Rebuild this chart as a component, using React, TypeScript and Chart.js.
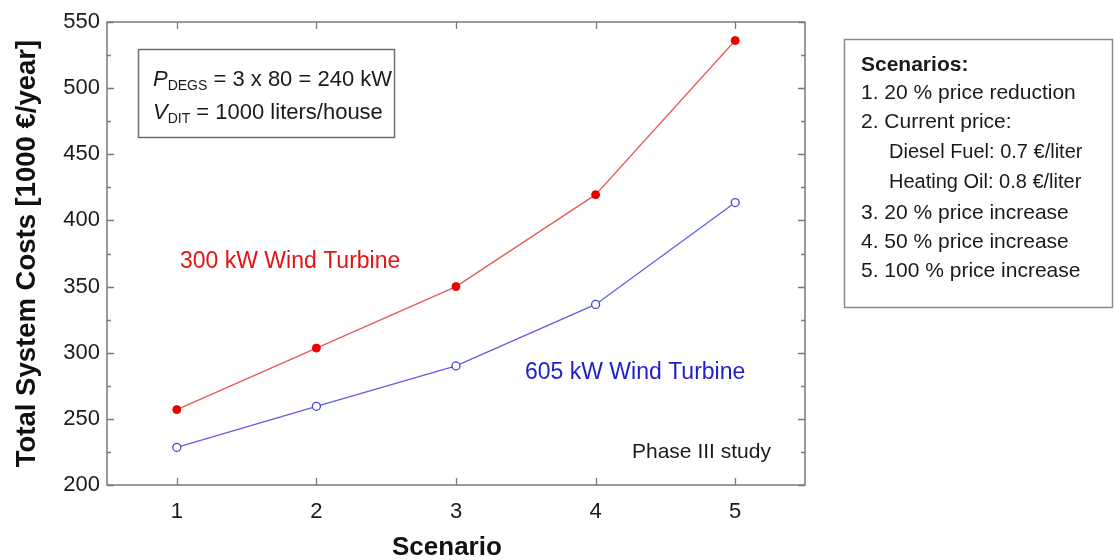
import React, { useEffect, useRef } from 'react';
import { Chart, registerables } from 'chart.js';

Chart.register(...registerables);

const scenarios = ['1', '2', '3', '4', '5'];
const cost300kW = [257, 303.5, 350, 419.5, 536];
const cost605kW = [228.5, 259.5, 290, 336.5, 413.5];
const yMin = 200;
const yMax = 550;
const yMinorStep = 25;
const yLabelStep = 50;

const xTitle = 'Scenario';
const yTitle = 'Total System Costs [1000 €/year]';
const label300 = '300 kW Wind Turbine';
const label605 = '605 kW Wind Turbine';
const phaseLabel = 'Phase III study';
const legendTitle = 'Scenarios:';
const legendMain = [
  { text: '1. 20 % price reduction', sub: false },
  { text: '2. Current price:', sub: false },
  { text: 'Diesel Fuel: 0.7 €/liter', sub: true },
  { text: 'Heating Oil: 0.8 €/liter', sub: true },
  { text: '3. 20 % price increase', sub: false },
  { text: '4. 50 % price increase', sub: false },
  { text: '5. 100 % price increase', sub: false },
];

const FONT = '"Liberation Sans", Arial, Helvetica, sans-serif';
const RED_TEXT = 'rgb(228,18,18)';
const BLUE_TEXT = 'rgb(30,30,205)';

const framePlugin = {
  id: 'frameTicks',
  beforeDatasetsDraw(chart: any) {
    const { ctx, chartArea } = chart;
    const { left, right, top, bottom } = chartArea;
    const xs = chart.scales.x;
    const ys = chart.scales.y;
    ctx.save();
    ctx.strokeStyle = '#7a7a7a';
    ctx.lineWidth = 1.5;
    ctx.strokeRect(left, top, right - left, bottom - top);
    ctx.lineWidth = 1.3;
    ctx.beginPath();
    ys.ticks.forEach((t: any) => {
      const py = Math.round(ys.getPixelForValue(t.value)) + 0.5;
      const len = t.value % yLabelStep === 0 ? 7 : 4;
      ctx.moveTo(left, py);
      ctx.lineTo(left + len, py);
      ctx.moveTo(right, py);
      ctx.lineTo(right - len, py);
    });
    xs.ticks.forEach((_t: any, i: number) => {
      const px = Math.round(xs.getPixelForTick(i)) + 0.5;
      ctx.moveTo(px, bottom);
      ctx.lineTo(px, bottom - 7);
      ctx.moveTo(px, top);
      ctx.lineTo(px, top + 7);
    });
    ctx.stroke();
    ctx.restore();
  },
  afterDraw(chart: any) {
    const { ctx } = chart;
    ctx.save();
    ctx.textBaseline = 'middle';
    ctx.textAlign = 'left';

    // x axis title
    ctx.font = `bold 26px ${FONT}`;
    ctx.fillStyle = '#111';
    ctx.fillText(xTitle, 392, 548);

    // series labels
    ctx.font = `23px ${FONT}`;
    ctx.fillStyle = RED_TEXT;
    ctx.fillText(label300, 180, 262);
    ctx.fillStyle = BLUE_TEXT;
    ctx.fillText(label605, 525, 373);
    ctx.fillStyle = '#1a1a1a';
    ctx.font = `21px ${FONT}`;
    ctx.fillText(phaseLabel, 632, 452);

    // inset box
    ctx.strokeStyle = '#6e6e6e';
    ctx.lineWidth = 1.5;
    ctx.strokeRect(138.5, 49.5, 256, 88);
    ctx.fillStyle = '#1a1a1a';
    ctx.textBaseline = 'alphabetic';
    const drawSubLine = (main: string, sub: string, rest: string, x: number, y: number) => {
      ctx.font = `italic 22px ${FONT}`;
      ctx.fillText(main, x, y);
      let cx = x + ctx.measureText(main).width;
      ctx.font = `14px ${FONT}`;
      ctx.fillText(sub, cx, y + 4);
      cx += ctx.measureText(sub).width;
      ctx.font = `22px ${FONT}`;
      ctx.fillText(rest, cx, y);
    };
    drawSubLine('P', 'DEGS', ' = 3 x 80 = 240 kW', 153, 86);
    drawSubLine('V', 'DIT', ' = 1000 liters/house', 153, 119);

    // legend box
    ctx.strokeStyle = '#8a8a8a';
    ctx.lineWidth = 1.5;
    ctx.strokeRect(844.5, 39.5, 268, 268);
    ctx.textBaseline = 'middle';
    ctx.font = `bold 21px ${FONT}`;
    ctx.fillText(legendTitle, 861, 65);
    const ys = [93, 122, 152, 182, 213, 242, 271];
    legendMain.forEach((l, i) => {
      ctx.font = l.sub ? `20px ${FONT}` : `21px ${FONT}`;
      ctx.fillText(l.text, l.sub ? 889 : 861, ys[i]);
    });
    ctx.restore();
  },
};

export default function App() {
  const ref = useRef<HTMLCanvasElement | null>(null);
  useEffect(() => {
    if (!ref.current) return;
    const chart = new Chart(ref.current, {
      type: 'line',
      data: {
        labels: scenarios,
        datasets: [
          {
            label: label300,
            data: cost300kW,
            borderColor: 'rgb(228,92,92)',
            borderWidth: 1.3,
            pointBackgroundColor: 'rgb(235,0,0)',
            pointBorderColor: 'rgb(235,0,0)',
            pointRadius: 4,
            pointBorderWidth: 1,
            tension: 0,
          },
          {
            label: label605,
            data: cost605kW,
            borderColor: 'rgb(95,95,225)',
            borderWidth: 1.3,
            pointBackgroundColor: '#ffffff',
            pointBorderColor: 'rgb(70,70,210)',
            pointRadius: 4,
            pointBorderWidth: 1.3,
            tension: 0,
          },
        ],
      },
      options: {
        animation: false,
        responsive: false,
        layout: { padding: { top: 22, right: 310, left: 0, bottom: 0 } },
        plugins: {
          legend: { display: false },
          tooltip: { enabled: false },
        },
        scales: {
          x: {
            type: 'category',
            offset: true,
            grid: { display: false, drawTicks: false },
            border: { display: false },
            ticks: { font: { size: 22, family: FONT }, color: '#1a1a1a', padding: 14 },
            title: { display: false, text: xTitle },
            afterFit: (s: any) => {
              s.height = 75;
            },
          },
          y: {
            type: 'linear',
            min: yMin,
            max: yMax,
            grid: { display: false, drawTicks: false },
            border: { display: false },
            ticks: {
              stepSize: yMinorStep,
              autoSkip: false,
              font: { size: 22, family: FONT },
              color: '#1a1a1a',
              padding: 7,
              callback: (v: any) => (Number(v) % yLabelStep === 0 ? String(v) : ''),
            },
            title: {
              display: true,
              text: yTitle,
              font: { size: 27.5, weight: 'bold', family: FONT, lineHeight: 1 },
              color: '#111',
              padding: { top: 14, bottom: 0 },
            },
            afterFit: (s: any) => {
              s.width = 107;
            },
          },
        },
      },
      plugins: [framePlugin],
    } as any);
    return () => chart.destroy();
  }, []);
  return (
    <div style={{ position: 'absolute', left: 0, top: 0, width: 1115, height: 560, background: '#fff' }}>
      <canvas ref={ref} width={1115} height={560} style={{ display: 'block' }} />
    </div>
  );
}
